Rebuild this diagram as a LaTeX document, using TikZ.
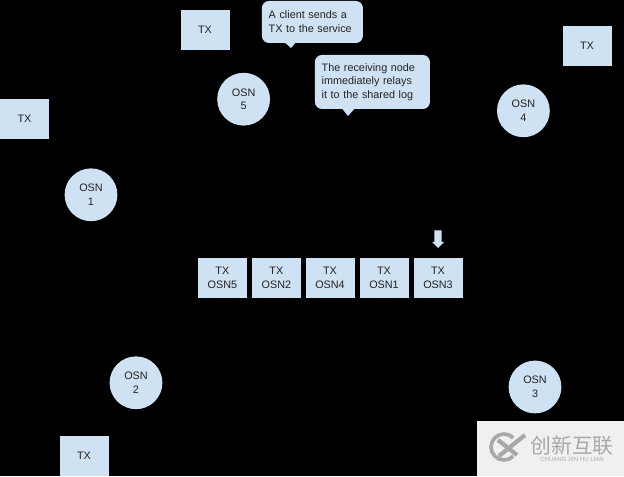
\documentclass[tikz,border=0pt]{standalone}
\usepackage{xcolor}
\usepackage{fontspec}
\setmainfont{Liberation Sans}
\newfontfamily\cjkfont{Noto Sans CJK SC}
\definecolor{osnblue}{HTML}{CFE2F3}
\definecolor{inkgrey}{HTML}{222222}
\definecolor{markgrey}{HTML}{A8A8A8}
\definecolor{markbg}{HTML}{F0F0F0}

\begin{document}
\begin{tikzpicture}[font=\fontsize{7.7}{9.8}\selectfont, text=inkgrey,
    txbox/.style={rectangle, fill=osnblue, minimum width=1.225cm, minimum height=1cm,
      inner sep=0pt, align=center},
    osn/.style={circle, fill=osnblue, minimum size=1.32cm, inner sep=0pt, align=center},
    bubble/.style={rectangle, rounded corners=5pt, fill=osnblue, inner sep=0.17cm, align=left},
  ]
    \fill[black] (0,0) rectangle (15.6,11.9);
    \useasboundingbox (0,0) rectangle (15.6,11.9);

    \node[txbox] (txtop)   at (5.125, 11.15) {TX};
    \node[txbox] (txright) at (14.675,10.75) {TX};
    \node[txbox] (txleft)  at (0.6125,8.93)  {TX};
    \node[txbox] (txbot)   at (2.1,   0.5)   {TX};

    \node[osn] (osn5) at (6.09,  9.42) {OSN\\5};
    \node[osn] (osn4) at (13.085,9.13) {OSN\\4};
    \node[osn] (osn1) at (2.275, 7.03) {OSN\\1};
    \node[osn] (osn2) at (3.4,   2.33) {OSN\\2};
    \node[osn] (osn3) at (13.375,2.225) {OSN\\3};

    \node[txbox] (log0) at (5.56, 4.95) {TX\\OSN5};
    \node[txbox] (log1) at (6.91, 4.95) {TX\\OSN2};
    \node[txbox] (log2) at (8.25, 4.95) {TX\\OSN4};
    \node[txbox] (log3) at (9.6,  4.95) {TX\\OSN1};
    \node[txbox] (log4) at (10.95,4.95) {TX\\OSN3};

    % head of the log
    \fill[osnblue] (10.86,6.14) -- (11.04,6.14) -- (11.04,5.85) -- (11.1,5.85) -- (10.95,5.7)
      -- (10.8,5.85) -- (10.86,5.85) -- cycle;

    % speech bubbles
    \fill[osnblue] (7.05,10.9) -- (7.275,10.7) -- (7.45,10.9) -- cycle;
    \node[bubble, text width=2.185cm, minimum height=1.05cm] (say0) at (7.81,11.35) {A client sends a\\TX to the service};
    \fill[osnblue] (8.5,9.25) -- (8.7,9.0) -- (8.925,9.25) -- cycle;
    \node[bubble, text width=2.535cm, minimum height=1.35cm] (say1) at (9.31,9.85) {The receiving node\\immediately relays\\it to the shared log};

    % watermark
    \fill[markbg] (11.925,0) rectangle (15.6,1.375);
    \draw[markgrey, line width=2.6pt] (12.83,0.955) arc (45:315:0.325);
    \draw[markgrey, line width=3pt] (12.45,0.9) -- (12.925,0.525);
    \draw[markgrey, line width=3pt] (12.475,0.5) -- (13.125,1.025);
    \node[text=markgrey, font=\cjkfont\fontsize{14.8}{15}\selectfont, inner sep=0pt] (markcn) at (14.3,0.76) {创新互联};
    \node[text=markgrey, font=\fontsize{4.3}{5}\selectfont, inner sep=0pt] (markpy) at (14.3,0.42) {CHUANG XIN HU LIAN};
  \end{tikzpicture}
\end{document}
